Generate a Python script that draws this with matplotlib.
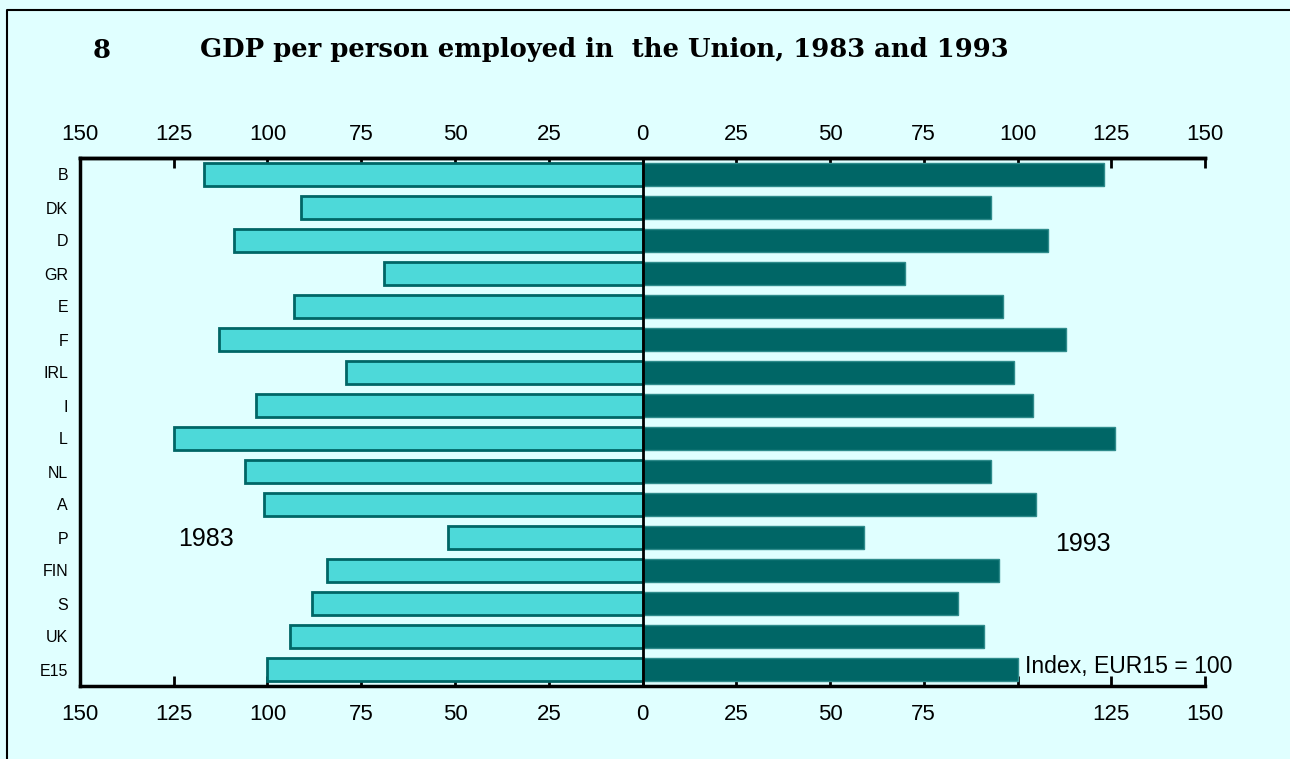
import matplotlib
matplotlib.use("Agg")
import matplotlib.pyplot as plt
from matplotlib.lines import Line2D
import numpy as np

countries = ["B", "DK", "D", "GR", "E", "F", "IRL", "I", "L", "NL", "A", "P", "FIN", "S", "UK", "E15"]
val_1983 = [117, 91, 109, 69, 93, 113, 79, 103, 125, 106, 101, 52, 84, 88, 94, 100]
val_1993 = [123, 93, 108, 70, 96, 113, 99, 104, 126, 93, 105, 59, 95, 84, 91, 100]
tick_vals = [-150, -125, -100, -75, -50, -25, 0, 25, 50, 75, 100, 125, 150]
top_labels = ["150", "125", "100", "75", "50", "25", "0", "25", "50", "75", "100", "125", "150"]
bottom_labels = ["150", "125", "100", "75", "50", "25", "0", "25", "50", "75", "", "125", "150"]

BG = "#E0FFFF"
LIGHT = "#4DD9D9"
DARK = "#006666"

W, H = 1290, 759
fig = plt.figure(figsize=(W / 100, H / 100), dpi=100, facecolor=BG)
plt.rcParams['font.family'] = ['Liberation Sans', 'DejaVu Sans']

ax_l, ax_r, ax_t, ax_b = 80, 1205, 158, 686
ax = fig.add_axes([ax_l / W, 1 - ax_b / H, (ax_r - ax_l) / W, (ax_b - ax_t) / H])
ax.set_facecolor(BG)

y = np.arange(len(countries))
ax.barh(y, [-v for v in val_1983], height=0.72, color=LIGHT, edgecolor=DARK, linewidth=2, zorder=2)
ax.barh(y, val_1993, height=0.72, color=DARK, edgecolor="#2E8B8B", linewidth=1, zorder=2)
ax.axvline(0, color="black", lw=2, zorder=3)

ax.set_xlim(-150, 150)
ax.set_ylim(len(countries) - 0.5, -0.5)
ax.set_yticks(y)
ax.set_yticklabels(countries, fontsize=11.5)
ax.tick_params(axis='y', length=0, pad=8.6)

ax.set_xticks(tick_vals)
ax.set_xticklabels(bottom_labels, fontsize=16)
ax.tick_params(axis='x', direction='in', length=7, width=2, pad=13, bottom=True)

sec = ax.secondary_xaxis('top')
sec.set_xticks(tick_vals)
sec.set_xticklabels(top_labels, fontsize=16)
sec.tick_params(axis='x', direction='in', length=7, width=2, pad=9.5)
sec.spines['top'].set_linewidth(2.5)

for s in ['left', 'bottom', 'top']:
    ax.spines[s].set_linewidth(2.5)
ax.spines['right'].set_visible(False)

ax.text(-116.5, 11.05, "1983", fontsize=18, ha='center', va='center')
ax.text(117.5, 11.2, "1993", fontsize=18, ha='center', va='center')
ax.text(102, 15.1, "Index, EUR15 = 100", fontsize=16.6, ha='left', va='baseline')

fig.text(102 / W, 1 - 50 / H, "8", fontsize=18.6, fontweight='bold', family='DejaVu Serif', ha='center', va='center')
fig.text(200 / W, 1 - 50 / H, "GDP per person employed in  the Union, 1983 and 1993", fontsize=18.6,
         fontweight='bold', family='DejaVu Serif', ha='left', va='center')

fig.add_artist(Line2D([7 / W, 7 / W, 1.0], [0.0, 1 - 10 / H, 1 - 10 / H], transform=fig.transFigure,
                      color='black', lw=1.5))

fig.savefig("out.png", dpi=100, facecolor=BG)
